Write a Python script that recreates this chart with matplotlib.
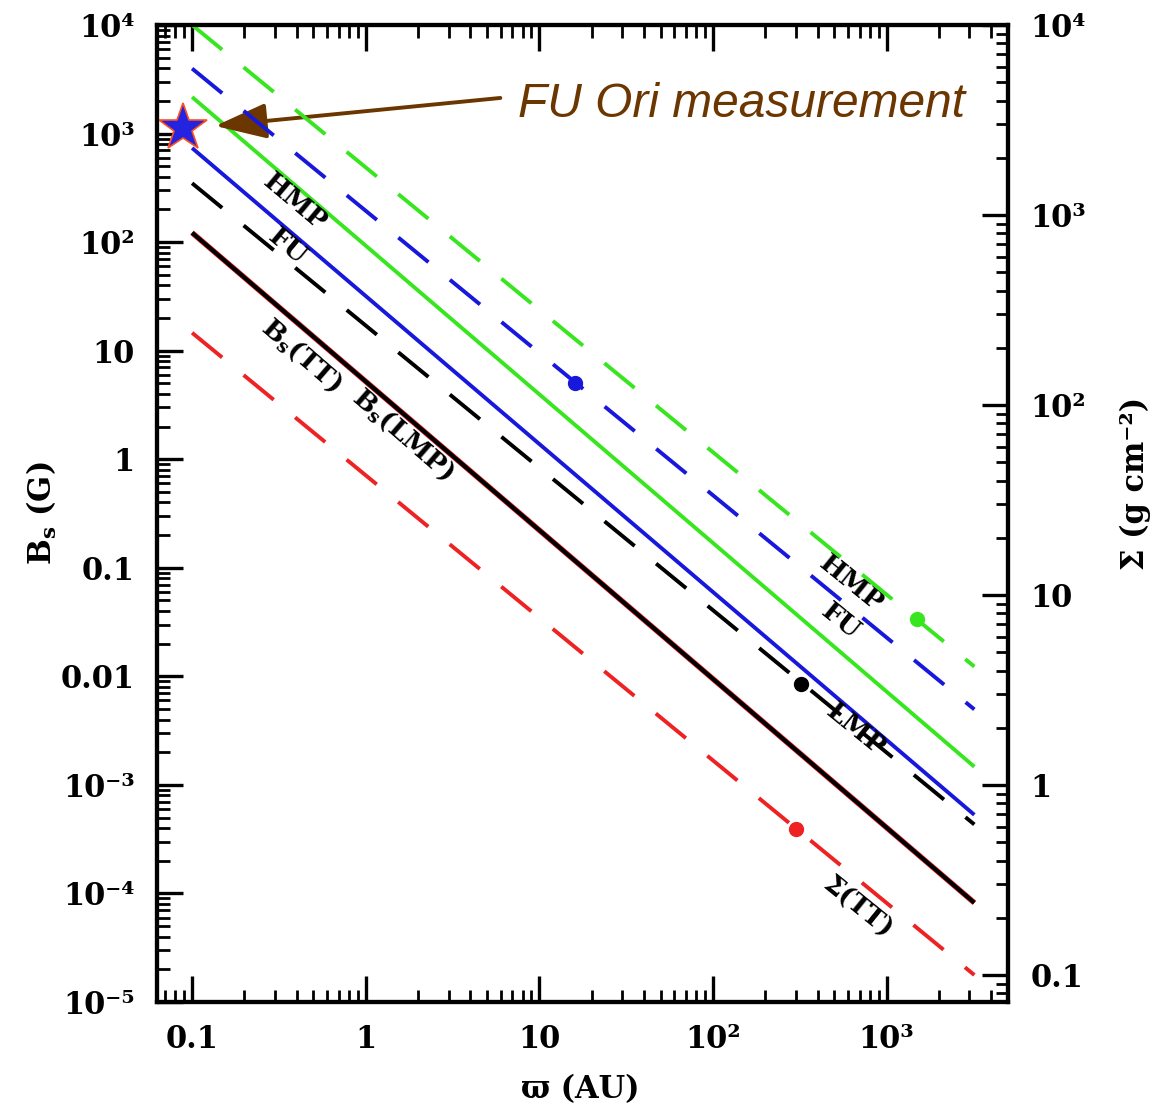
"""B_s and Sigma vs radius, log-log, with FU Ori measurement marked."""
import matplotlib
matplotlib.use("Agg")
import matplotlib.pyplot as plt
from matplotlib.ticker import FixedLocator, FixedFormatter, LogLocator, NullFormatter

plt.rcParams["font.family"] = ["DejaVu Serif"]
plt.rcParams["font.weight"] = "bold"
plt.rcParams["mathtext.fontset"] = "dejavuserif"
plt.rcParams["lines.scale_dashes"] = False

# radius span of the model curves (AU)
r_ends = [0.1, 3200]

# solid curves: B_s (G), left axis, values at r_ends
b_tt = [122, 8.2e-5]
b_lmp = [122, 8.2e-5]
b_fu = [736, 5.3e-4]
b_hmp = [2170, 1.47e-3]

# dashed curves: Sigma (g cm^-2), right axis, values at r_ends
s_tt = [240, 0.10]
s_lmp = [1470, 0.62]
s_fu = [5900, 2.5]
s_hmp = [1.0e4, 4.2]

# dots on the Sigma curves
dot_r = [300, 320, 16, 1500]
dot_s = [0.59, 3.4, 130, 7.5]

# FU Ori measurement
star_r, star_b = 0.089, 1120

GREEN = "#38e620"
BLUE = "#1818dc"
RED = "#ee2222"
BROWN = "#6b3600"

fig = plt.figure(figsize=(11.65, 11.14), dpi=100)
ax = fig.add_axes([157 / 1165, 112 / 1114, 851 / 1165, 977 / 1114])
ax.set_xscale("log"); ax.set_yscale("log")
ax.set_xlim(0.0628, 5000); ax.set_ylim(1e-5, 1e4)

ax2 = ax.twinx()
ax2.set_yscale("log"); ax2.set_ylim(0.0721, 1e4)

# solid B_s lines
ax.plot(r_ends, b_tt, color=RED, lw=4.0, solid_capstyle="butt")
ax.plot(r_ends, b_lmp, color="black", lw=3.0, solid_capstyle="butt")
ax.plot(r_ends, b_fu, color=BLUE, lw=2.8, solid_capstyle="butt")
ax.plot(r_ends, b_hmp, color=GREEN, lw=2.8, solid_capstyle="butt")

# dashed Sigma lines
dash = (28, 20)
for s, c in [(s_tt, RED), (s_lmp, "black"), (s_fu, BLUE), (s_hmp, GREEN)]:
    ax2.plot(r_ends, s, color=c, lw=2.8, dashes=dash, dash_capstyle="butt")
for r, s, c in zip(dot_r, dot_s, [RED, "black", BLUE, GREEN]):
    ax2.plot(r, s, "o", color=c, ms=10)

# axis ticks
ax.xaxis.set_major_locator(FixedLocator([0.1, 1, 10, 100, 1000]))
ax.xaxis.set_major_formatter(FixedFormatter(["0.1", "1", "10", "10²", "10³"]))
ax.xaxis.set_minor_locator(LogLocator(base=10, subs=range(2, 10), numticks=20))
ax.xaxis.set_minor_formatter(NullFormatter())

yl = [1e-5, 1e-4, 1e-3, 0.01, 0.1, 1, 10, 100, 1000, 1e4]
ax.yaxis.set_major_locator(FixedLocator(yl))
ax.yaxis.set_major_formatter(FixedFormatter(
    ["10⁻⁵", "10⁻⁴", "10⁻³", "0.01", "0.1", "1", "10", "10²", "10³", "10⁴"]))
ax.yaxis.set_minor_locator(LogLocator(base=10, subs=range(2, 10), numticks=20))
ax.yaxis.set_minor_formatter(NullFormatter())

ax2.yaxis.set_major_locator(FixedLocator([0.1, 1, 10, 100, 1000, 1e4]))
ax2.yaxis.set_major_formatter(FixedFormatter(["0.1", "1", "10", "10²", "10³", "10⁴"]))
ax2.yaxis.set_minor_locator(LogLocator(base=10, subs=range(2, 10), numticks=20))
ax2.yaxis.set_minor_formatter(NullFormatter())

ax.tick_params(axis="x", which="both", direction="in", top=True, bottom=True)
ax.tick_params(axis="y", which="both", direction="in", left=True, right=False)
ax2.tick_params(axis="y", which="both", direction="in", left=False, right=True)
for a in (ax, ax2):
    a.tick_params(which="major", length=19, width=2.4, labelsize=22, pad=16)
    a.tick_params(which="minor", length=9, width=2.0)
    for sp in a.spines.values():
        sp.set_linewidth(3)
ax.tick_params(axis="x", pad=16)

# curve labels
lab = dict(fontsize=19, fontweight="heavy", ha="center", va="center",
           rotation_mode="anchor", zorder=6)
ax.text(0.393, 234, "HMP", rotation=-40, **lab)
ax.text(0.353, 90, "FU", rotation=-40, **lab)
ax.text(0.425, 9.1, r"$\mathbf{B_s}$(TT)", rotation=-41, **lab)
ax.text(1.64, 1.68, r"$\mathbf{B_s}$(LMP)", rotation=-41, **lab)
ax.text(621, 0.0713, "HMP", rotation=-39, **lab)
ax.text(543, 0.0318, "FU", rotation=-39, **lab)
ax.text(662, 0.00322, "LMP", rotation=-39, **lab)
ax.text(681, 7.4e-5, "Σ(TT)", rotation=-39, **lab)

# axis titles
fig.text(0.036, 0.5395, r"$\mathbf{B_s}$ (G)", rotation=90, fontsize=22,
         fontweight="bold", ha="center", va="center")
fig.text(0.975, 0.566, "Σ (g cm⁻²)", rotation=90, fontsize=22,
         fontweight="bold", ha="center", va="center")
fig.text(0.498, 0.022, "ϖ (AU)", fontsize=22, fontweight="bold",
         ha="center", va="center")

# FU Ori annotation
ax.plot(star_r, star_b, marker="*", ms=36, mfc="#2424e0", mec="#ff5020",
        mew=1.2, clip_on=False, zorder=10)
ax.annotate("", xy=(0.136, 1175), xytext=(5.96, 2128),
            arrowprops=dict(arrowstyle="-|>,head_length=1.6,head_width=0.55",
                            mutation_scale=20, color=BROWN, lw=2.8,
                            shrinkA=0, shrinkB=0), zorder=11)
ax.text(7.57, 1422, "FU Ori measurement", fontsize=34.5, style="italic",
        fontweight="normal", family=["Liberation Sans"], color=BROWN,
        va="baseline", ha="left", zorder=11)

plt.savefig("out.png", dpi=100)
